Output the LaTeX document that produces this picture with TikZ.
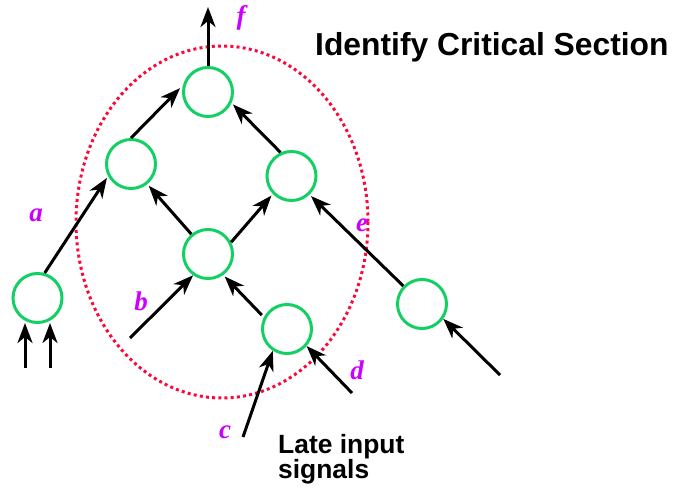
\documentclass[tikz,border=0pt]{standalone}
\usepackage{fontspec}
\setmainfont{Liberation Serif}
\setsansfont{Liberation Sans}
\usetikzlibrary{arrows.meta}
\definecolor{gategreen}{RGB}{20,208,100}
\definecolor{critred}{RGB}{250,10,60}
\definecolor{sigmag}{RGB}{204,0,255}
\tikzset{
  gate/.style={circle, draw=gategreen, line width=3pt, minimum size=49pt, inner sep=0pt},
  wire/.style={line width=3pt, -{Stealth[length=20pt,width=15pt,inset=6pt]}, shorten >=2pt},
  sig/.style={text=sigmag, font=\fontsize{27}{27}\selectfont\bfseries\itshape, inner sep=0pt},
  caption/.style={font=\sffamily\bfseries, inner sep=0pt, align=left}
}
\begin{document}
\begin{tikzpicture}[x=1pt,y=-1pt]
  \useasboundingbox (0,0) rectangle (674,489);

  % critical region
  \draw[critred, line width=3pt, dash pattern=on 3pt off 3.2pt]
    (222,222) ellipse [x radius=146, y radius=176];

  % gates
  \node[gate] (g1) at (208,92) {};
  \node[gate] (g2) at (131,164) {};
  \node[gate] (g3) at (291.5,176) {};
  \node[gate] (g4) at (208,254) {};
  \node[gate] (g5) at (287,329) {};
  \node[gate] (g6) at (37.5,298) {};
  \node[gate] (g7) at (422,304) {};

  % free ends
  \coordinate (fout) at (208,7);
  \coordinate (in1) at (25,368);
  \coordinate (in1t) at (25,323);
  \coordinate (in2) at (50,368);
  \coordinate (in2t) at (50,323);
  \coordinate (bin) at (130,338);
  \coordinate (cin) at (243,437);
  \coordinate (din) at (352,393);
  \coordinate (ein) at (500,375);

  % connections
  \draw[wire, shorten >=0pt] (g1.north) -- (fout);
  \draw[wire, shorten >=4pt] (g2.90) -- (g1.165);
  \draw[wire] (g3.115) -- (g1.-25);
  \draw[wire] (g4.130) -- (g2.-51);
  \draw[wire] (g4.27) -- (g3.224);
  \draw[wire, shorten <=3pt] (g5.153) -- (g4.-54);
  \draw[wire] (g6.74) -- (g2.208);
  \draw[wire] (g7.136) -- (g3.-46);
  \draw[wire, shorten >=0pt] (ein) -- (g7.-35);
  \draw[wire, shorten >=0pt] (bin) -- (g4.235);
  \draw[wire, shorten >=0pt] (cin) -- (g5.237);
  \draw[wire, shorten >=0pt] (din) -- (g5.-41);
  \draw[wire, shorten >=0pt] (in1) -- (in1t);
  \draw[wire, shorten >=0pt] (in2) -- (in2t);

  % signal names
  \node[sig] (lf) at (241,18) {f};
  \node[sig] (la) at (36,215) {a};
  \node[sig] (lb) at (141,301) {b};
  \node[sig] (le) at (362,225) {e};
  \node[sig] (ld) at (357,370) {d};
  \node[sig] (lc) at (225,432) {c};

  % captions
  \node[caption, anchor=base west, font=\sffamily\bfseries\fontsize{31.8}{31.8}\selectfont]
    (title) at (315,56) {Identify Critical Section};
  \node[caption, anchor=base west, font=\sffamily\bfseries\fontsize{26.4}{25}\selectfont]
    (late) at (278,478) {Late input\\signals};
\end{tikzpicture}
\end{document}
